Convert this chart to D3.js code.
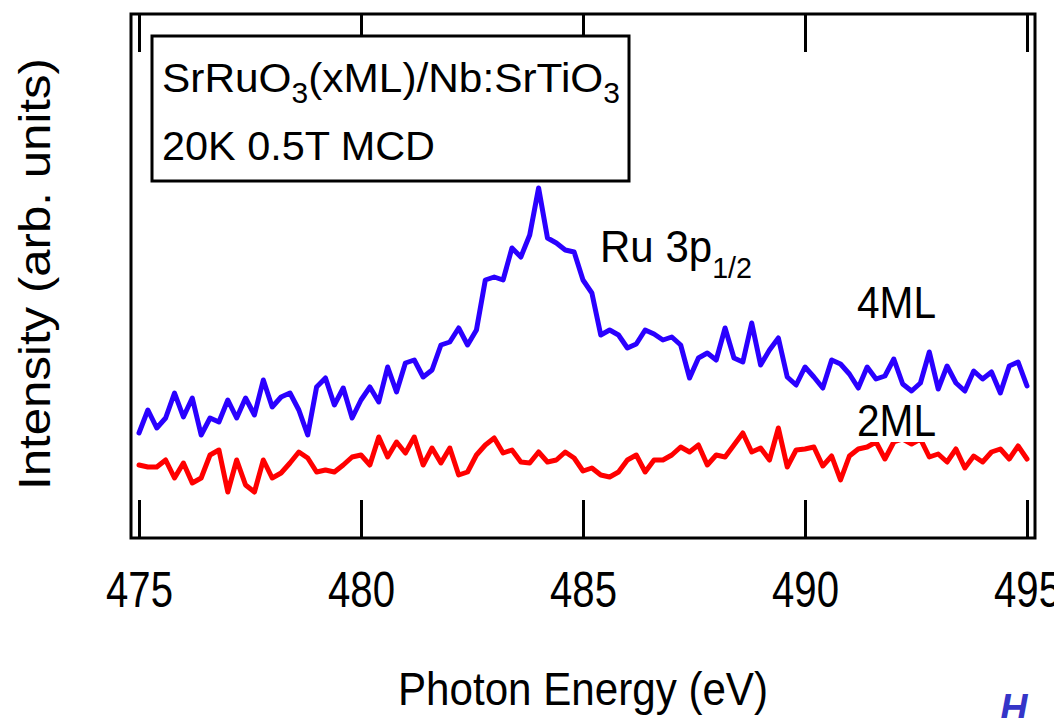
<!DOCTYPE html>
<html>
<head>
<meta charset="utf-8">
<script src="https://cdn.jsdelivr.net/npm/d3@7"></script>
<style>
  html, body { margin: 0; padding: 0; background: #ffffff; }
  svg { display: block; }
  text { font-family: "Liberation Sans", Arial, Helvetica, sans-serif; fill: #000; }
</style>
</head>
<body>
<script>
// ---------------- DATA ----------------
const energyStart = 475;      // eV
const energyStep = 0.2;       // eV sampling
const xTickValues = [475, 480, 485, 490, 495];
const xDomain = [475, 495];
const yDomain = [0, 5.23];    // arb. units

// MCD intensity, 4ML film (blue)
const mcd4ML = [
  1.04, 1.27, 1.09, 1.19, 1.44, 1.20, 1.39, 1.02, 1.19, 1.15,
  1.37, 1.19, 1.39, 1.22, 1.57, 1.30, 1.40, 1.44, 1.27, 1.02,
  1.50, 1.59, 1.32, 1.49, 1.19, 1.37, 1.50, 1.35, 1.70, 1.45,
  1.74, 1.77, 1.60, 1.67, 1.92, 1.95, 2.09, 1.92, 2.07, 2.57,
  2.60, 2.57, 2.89, 2.80, 3.02, 3.49, 2.99, 2.94, 2.87, 2.85,
  2.57, 2.44, 2.02, 2.07, 2.02, 1.89, 1.93, 2.07, 2.03, 1.97,
  2.00, 1.92, 1.59, 1.79, 1.84, 1.77, 2.09, 1.79, 1.75, 2.14,
  1.72, 1.87, 1.99, 1.60, 1.52, 1.70, 1.60, 1.49, 1.77, 1.73,
  1.63, 1.49, 1.70, 1.58, 1.61, 1.78, 1.53, 1.46, 1.54, 1.85,
  1.48, 1.71, 1.54, 1.46, 1.66, 1.58, 1.65, 1.44, 1.71, 1.75,
  1.51
];

// MCD intensity, 2ML film (red)
const mcd2ML = [
  0.72, 0.70, 0.70, 0.77, 0.59, 0.74, 0.54, 0.59, 0.82, 0.87,
  0.45, 0.77, 0.52, 0.45, 0.77, 0.59, 0.64, 0.74, 0.85, 0.79,
  0.65, 0.67, 0.65, 0.72, 0.80, 0.82, 0.72, 1.00, 0.80, 0.95,
  0.84, 1.00, 0.72, 0.89, 0.74, 0.89, 0.62, 0.65, 0.82, 0.92,
  0.99, 0.84, 0.87, 0.75, 0.74, 0.85, 0.75, 0.77, 0.85, 0.79,
  0.66, 0.69, 0.62, 0.60, 0.65, 0.77, 0.82, 0.65, 0.77, 0.77,
  0.82, 0.90, 0.85, 0.92, 0.72, 0.82, 0.80, 0.92, 1.04, 0.85,
  0.89, 0.77, 1.09, 0.70, 0.87, 0.88, 0.90, 0.71, 0.81, 0.57,
  0.81, 0.88, 0.90, 0.95, 0.78, 0.95, 0.98, 0.93, 0.98, 0.80,
  0.83, 0.75, 0.88, 0.69, 0.81, 0.75, 0.85, 0.88, 0.78, 0.91,
  0.78
];

const energies = mcd4ML.map((_, i) => +(energyStart + energyStep * i).toFixed(1));

const seriesNames = ["4ML", "2ML"];
const seriesColors = ["#2a00ff", "#ff0000"];

// ---------------- CHART ----------------
const W = 1054, H = 718;
const svg = d3.select("body").append("svg").attr("width", W).attr("height", H);

const x = d3.scaleLinear().domain(xDomain).range([139, 1027]);
const y = d3.scaleLinear().domain(yDomain).range([537, 14]);

const frame = { left: 131, right: 1035, top: 14, bottom: 538 };

// ticks (inward) top & bottom
const bottomAxis = d3.axisBottom(x).tickValues(xTickValues).tickSizeInner(-38).tickSizeOuter(0).tickPadding(0);
const gB = svg.append("g").attr("transform", `translate(0,${frame.bottom})`).call(bottomAxis);
gB.select(".domain").remove();
gB.selectAll(".tick line").attr("stroke", "#000").attr("stroke-width", 3);
gB.selectAll(".tick text")
  .attr("y", 69).attr("dy", 0)
  .attr("font-size", 50)
  .attr("font-family", "'Liberation Sans', Arial, sans-serif")
  .attr("fill", "#000")
  .attr("textLength", 67).attr("lengthAdjust", "spacingAndGlyphs");

const topAxis = d3.axisTop(x).tickValues(xTickValues).tickSizeInner(-38).tickSizeOuter(0).tickFormat("");
const gT = svg.append("g").attr("transform", `translate(0,${frame.top})`).call(topAxis);
gT.select(".domain").remove();
gT.selectAll(".tick line").attr("stroke", "#000").attr("stroke-width", 3);

// lines
const line = d3.line().x((d, i) => x(energies[i])).y(d => y(d));
[mcd4ML, mcd2ML].forEach((s, k) => {
  svg.append("path").datum(s)
    .attr("d", line)
    .attr("fill", "none")
    .attr("stroke", seriesColors[k])
    .attr("stroke-width", 5)
    .attr("stroke-linejoin", "round")
    .attr("stroke-linecap", "round");
});

// series labels with white background
function label(txt, x0, base, size, len) {
  svg.append("rect").attr("x", x0 - 2).attr("y", base - size * 0.8).attr("width", len + 4).attr("height", size * 0.8 + 6).attr("fill", "#fff");
  svg.append("text").attr("x", x0).attr("y", base).attr("font-size", size)
    .attr("textLength", len).attr("lengthAdjust", "spacingAndGlyphs").text(txt);
}
label(seriesNames[0], 857, 318, 44, 79);
label(seriesNames[1], 857, 436, 44, 79);

// Ru 3p1/2 label (single text with subscript)
const ru = svg.append("text").attr("x", 600).attr("y", 262).attr("font-size", 44)
  .attr("textLength", 152).attr("lengthAdjust", "spacingAndGlyphs");
ru.append("tspan").text("Ru 3p");
ru.append("tspan").attr("font-size", 30).attr("dy", 16).text("1/2");

// legend box
svg.append("rect").attr("x", 152).attr("y", 36).attr("width", 477).attr("height", 145)
  .attr("fill", "#fff").attr("stroke", "#000").attr("stroke-width", 3);
const t1 = svg.append("text").attr("x", 162).attr("y", 92).attr("font-size", 41)
  .attr("textLength", 458).attr("lengthAdjust", "spacingAndGlyphs");
t1.append("tspan").text("SrRuO");
t1.append("tspan").attr("font-size", 29).attr("dy", 11).text("3");
t1.append("tspan").attr("dy", -11).text("(xML)/Nb:SrTiO");
t1.append("tspan").attr("font-size", 29).attr("dy", 11).text("3");
svg.append("text").attr("x", 162).attr("y", 160).attr("font-size", 41)
  .attr("textLength", 273).attr("lengthAdjust", "spacingAndGlyphs").text("20K 0.5T MCD");

// frame
svg.append("rect").attr("x", frame.left).attr("y", frame.top)
  .attr("width", frame.right - frame.left).attr("height", frame.bottom - frame.top)
  .attr("fill", "none").attr("stroke", "#000").attr("stroke-width", 3);

// axis titles
svg.append("text").attr("transform", "translate(50,274) rotate(-90)")
  .attr("text-anchor", "middle").attr("font-size", 44)
  .attr("textLength", 432).attr("lengthAdjust", "spacingAndGlyphs")
  .text("Intensity (arb. units)");
svg.append("text").attr("x", 583).attr("y", 705)
  .attr("text-anchor", "middle").attr("font-size", 46)
  .attr("textLength", 370).attr("lengthAdjust", "spacingAndGlyphs")
  .text("Photon Energy (eV)");

// corner mark
svg.append("text").attr("x", 1000).attr("y", 721)
  .attr("font-size", 38).attr("font-weight", "bold").attr("font-style", "italic")
  .style("fill", "#3535c8").text("H");
</script>
</body>
</html>
